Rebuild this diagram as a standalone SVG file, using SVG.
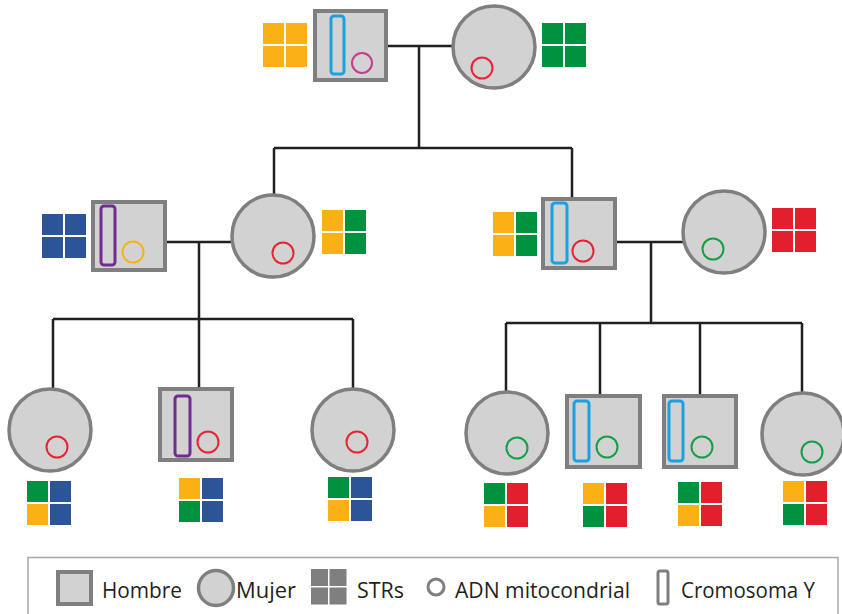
<svg xmlns="http://www.w3.org/2000/svg" width="842" height="614" viewBox="0 0 842 614">
  <style>
    .male { fill: #d3d2d2; stroke: #7f7f7f; stroke-width: 4; }
    .female { fill: #d3d2d2; stroke: #7f7f7f; stroke-width: 3.5; }
    .ychr { fill: none; stroke-width: 3; }
    .mito { fill: none; stroke-width: 2; }
    .link { fill: none; stroke: #231f20; stroke-width: 2.5; }
    .y { fill: #fbb116; }
    .g { fill: #00923f; }
    .b { fill: #2b5597; }
    .r { fill: #e31e2d; }
    .k { fill: #7f7f7f; }
    .lbl { font-family: "Open Sans", "Liberation Sans", sans-serif; font-size: 21px; fill: #231f20; }
  </style>

  <!-- connectors -->
  <g id="connectors" class="link">
    <path d="M387 46 H452 M419 46 V148 M274 148 H572 M274 148 V194 M572 148 V198"/>
    <path d="M166 242 H231 M199 242 V319 M53 319 H353 M53 319 V389 M199 319 V388 M353 319 V389"/>
    <path d="M617 242 H683 M651 242 V323 M506 323 H802 M506 323 V392 M600 323 V396 M700 323 V396 M802 323 V393"/>
  </g>

  <!-- generation I -->
  <g id="grandfather">
    <rect class="male" x="315" y="11" width="71" height="69"/>
    <rect class="ychr" x="331" y="16" width="13" height="58" rx="3" stroke="#1ba1e2"/>
    <circle class="mito" cx="362" cy="63" r="10" stroke="#c43b94"/>
    <g transform="translate(263,23)">
      <rect class="y" x="0" y="0" width="21" height="21"/><rect class="y" x="23" y="0" width="21" height="21"/>
      <rect class="y" x="0" y="23" width="21" height="21"/><rect class="y" x="23" y="23" width="21" height="21"/>
    </g>
  </g>
  <g id="grandmother">
    <circle class="female" cx="494" cy="47" r="41"/>
    <circle class="mito" cx="482" cy="68" r="10.5" stroke="#e52534"/>
    <g transform="translate(542,23)">
      <rect class="g" x="0" y="0" width="21" height="21"/><rect class="g" x="23" y="0" width="21" height="21"/>
      <rect class="g" x="0" y="23" width="21" height="21"/><rect class="g" x="23" y="23" width="21" height="21"/>
    </g>
  </g>

  <!-- generation II, left couple -->
  <g id="husband-left">
    <rect class="male" x="93" y="202" width="72" height="68"/>
    <rect class="ychr" x="101" y="206" width="14" height="59" rx="3" stroke="#712c8f"/>
    <circle class="mito" cx="133" cy="252" r="10.5" stroke="#f5b21b"/>
    <g transform="translate(42,214)">
      <rect class="b" x="0" y="0" width="21" height="21"/><rect class="b" x="23" y="0" width="21" height="21"/>
      <rect class="b" x="0" y="23" width="21" height="21"/><rect class="b" x="23" y="23" width="21" height="21"/>
    </g>
  </g>
  <g id="daughter">
    <circle class="female" cx="273" cy="236" r="41"/>
    <circle class="mito" cx="283" cy="253" r="10.5" stroke="#e52534"/>
    <g transform="translate(322,210)">
      <rect class="y" x="0" y="0" width="21" height="21"/><rect class="g" x="23" y="0" width="21" height="21"/>
      <rect class="y" x="0" y="23" width="21" height="21"/><rect class="g" x="23" y="23" width="21" height="21"/>
    </g>
  </g>

  <!-- generation II, right couple -->
  <g id="son">
    <rect class="male" x="543" y="199" width="72" height="69"/>
    <rect class="ychr" x="552" y="203" width="15" height="60" rx="3" stroke="#1ba1e2"/>
    <circle class="mito" cx="583" cy="251" r="10.5" stroke="#e52534"/>
    <g transform="translate(493,212)">
      <rect class="y" x="0" y="0" width="21" height="21"/><rect class="g" x="23" y="0" width="21" height="21"/>
      <rect class="y" x="0" y="23" width="21" height="21"/><rect class="g" x="23" y="23" width="21" height="21"/>
    </g>
  </g>
  <g id="wife-right">
    <circle class="female" cx="724" cy="232" r="41"/>
    <circle class="mito" cx="713" cy="249" r="10.5" stroke="#14a044"/>
    <g transform="translate(772,208)">
      <rect class="r" x="0" y="0" width="21" height="21"/><rect class="r" x="23" y="0" width="21" height="21"/>
      <rect class="r" x="0" y="23" width="21" height="21"/><rect class="r" x="23" y="23" width="21" height="21"/>
    </g>
  </g>

  <!-- generation III, left -->
  <g id="child-l1">
    <circle class="female" cx="50" cy="430" r="41"/>
    <circle class="mito" cx="57" cy="447" r="10.5" stroke="#e52534"/>
    <g transform="translate(27,481)">
      <rect class="g" x="0" y="0" width="21" height="21"/><rect class="b" x="23" y="0" width="21" height="21"/>
      <rect class="y" x="0" y="23" width="21" height="21"/><rect class="b" x="23" y="23" width="21" height="21"/>
    </g>
  </g>
  <g id="child-l2">
    <rect class="male" x="160" y="389" width="72" height="71"/>
    <rect class="ychr" x="175" y="396" width="15" height="60" rx="3" stroke="#712c8f"/>
    <circle class="mito" cx="208" cy="442" r="10.5" stroke="#e52534"/>
    <g transform="translate(179,478)">
      <rect class="y" x="0" y="0" width="21" height="21"/><rect class="b" x="23" y="0" width="21" height="21"/>
      <rect class="g" x="0" y="23" width="21" height="21"/><rect class="b" x="23" y="23" width="21" height="21"/>
    </g>
  </g>
  <g id="child-l3">
    <circle class="female" cx="353" cy="430" r="41"/>
    <circle class="mito" cx="357" cy="442" r="10.5" stroke="#e52534"/>
    <g transform="translate(328,477)">
      <rect class="g" x="0" y="0" width="21" height="21"/><rect class="b" x="23" y="0" width="21" height="21"/>
      <rect class="y" x="0" y="23" width="21" height="21"/><rect class="b" x="23" y="23" width="21" height="21"/>
    </g>
  </g>

  <!-- generation III, right -->
  <g id="child-r1">
    <circle class="female" cx="507" cy="433" r="41"/>
    <circle class="mito" cx="517" cy="448" r="10.5" stroke="#14a044"/>
    <g transform="translate(484,483)">
      <rect class="g" x="0" y="0" width="21" height="21"/><rect class="r" x="23" y="0" width="21" height="21"/>
      <rect class="y" x="0" y="23" width="21" height="21"/><rect class="r" x="23" y="23" width="21" height="21"/>
    </g>
  </g>
  <g id="child-r2">
    <rect class="male" x="567" y="396" width="73" height="71"/>
    <rect class="ychr" x="574" y="401" width="15" height="60" rx="3" stroke="#1ba1e2"/>
    <circle class="mito" cx="607" cy="447" r="10.5" stroke="#14a044"/>
    <g transform="translate(583,483)">
      <rect class="y" x="0" y="0" width="21" height="21"/><rect class="r" x="23" y="0" width="21" height="21"/>
      <rect class="g" x="0" y="23" width="21" height="21"/><rect class="r" x="23" y="23" width="21" height="21"/>
    </g>
  </g>
  <g id="child-r3">
    <rect class="male" x="664" y="396" width="72" height="71"/>
    <rect class="ychr" x="669" y="401" width="14" height="60" rx="3" stroke="#1ba1e2"/>
    <circle class="mito" cx="702" cy="447" r="10.5" stroke="#14a044"/>
    <g transform="translate(678,482)">
      <rect class="g" x="0" y="0" width="21" height="21"/><rect class="r" x="23" y="0" width="21" height="21"/>
      <rect class="y" x="0" y="23" width="21" height="21"/><rect class="r" x="23" y="23" width="21" height="21"/>
    </g>
  </g>
  <g id="child-r4">
    <circle class="female" cx="803" cy="434" r="41"/>
    <circle class="mito" cx="812" cy="452" r="10.5" stroke="#14a044"/>
    <g transform="translate(783,481)">
      <rect class="y" x="0" y="0" width="21" height="21"/><rect class="r" x="23" y="0" width="21" height="21"/>
      <rect class="g" x="0" y="23" width="21" height="21"/><rect class="r" x="23" y="23" width="21" height="21"/>
    </g>
  </g>

  <!-- legend -->
  <g id="legend">
    <rect x="28" y="557.5" width="810" height="70" fill="#ffffff" stroke="#a6a6a6" stroke-width="1.5"/>
    <rect class="male" x="58" y="572" width="33" height="32"/>
    <text class="lbl" x="102" y="598" textLength="80" lengthAdjust="spacingAndGlyphs">Hombre</text>
    <circle class="female" cx="216" cy="588" r="17.5"/>
    <text class="lbl" x="236" y="598" textLength="60" lengthAdjust="spacingAndGlyphs">Mujer</text>
    <g transform="translate(311,569)">
      <rect class="k" x="0" y="0" width="17" height="17"/><rect class="k" x="18.5" y="0" width="17" height="17"/>
      <rect class="k" x="0" y="18.5" width="17" height="17"/><rect class="k" x="18.5" y="18.5" width="17" height="17"/>
    </g>
    <text class="lbl" x="357" y="598" textLength="47" lengthAdjust="spacingAndGlyphs">STRs</text>
    <circle cx="436" cy="587" r="8" fill="none" stroke="#7f7f7f" stroke-width="3"/>
    <text class="lbl" x="455" y="598" textLength="175" lengthAdjust="spacingAndGlyphs">ADN mitocondrial</text>
    <rect x="658" y="571" width="10" height="33" rx="2" fill="none" stroke="#7f7f7f" stroke-width="3"/>
    <text class="lbl" x="681" y="598" textLength="134" lengthAdjust="spacingAndGlyphs">Cromosoma Y</text>
  </g>
</svg>
